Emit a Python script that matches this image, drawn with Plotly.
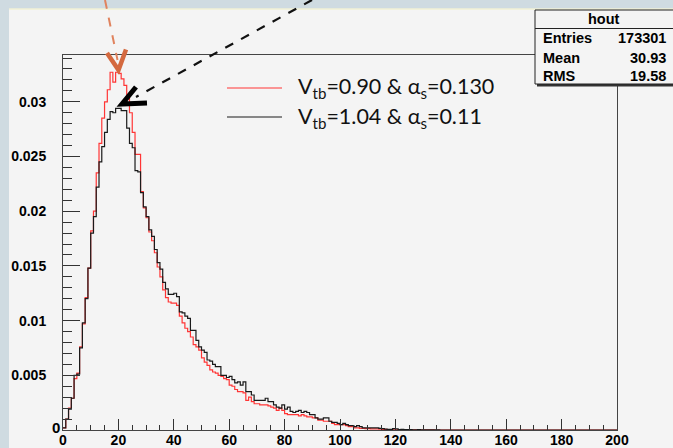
import numpy as np
import plotly.graph_objects as go

# ---------------- data ----------------
bin_edges_lo = 0
bin_edges_hi = 200
n_bins = 200

# V_tb=1.04 & alpha_s=0.11 (black), bins of width 1 starting at 0
black_vals = [
    0.0002, 0.0010, 0.0019, 0.0029, 0.0050, 0.0051, 0.0075, 0.0098, 0.0120, 0.0148,
    0.0180, 0.0195, 0.0222, 0.0245, 0.0259, 0.0272, 0.0284, 0.0291, 0.0290, 0.0294,
    0.0294, 0.0292, 0.0292, 0.0276, 0.0262, 0.0258, 0.0237, 0.0236, 0.0217, 0.0204,
    0.0195, 0.0183, 0.0177, 0.0165, 0.0153, 0.0147, 0.0135, 0.0129, 0.0124, 0.0124,
    0.0125, 0.0122, 0.0108, 0.0107, 0.0104, 0.0102, 0.0091, 0.0091, 0.0082, 0.0076,
    0.0073, 0.0071, 0.0064, 0.0063, 0.0060, 0.0058, 0.0058, 0.0050, 0.0050, 0.0048,
    0.0049, 0.0046, 0.0043, 0.0044, 0.0041, 0.0044, 0.0035, 0.0035, 0.0032, 0.0027,
    0.0027, 0.0027, 0.0027, 0.0029, 0.0026, 0.0026, 0.0023, 0.0021, 0.0020, 0.0023,
    0.0019, 0.0021, 0.0017, 0.0016, 0.0017, 0.0018, 0.0016, 0.0017, 0.0016, 0.0014,
    0.0014, 0.0011, 0.0010, 0.0010, 0.0011, 0.0011, 0.0008, 0.0007, 0.0007, 0.0006,
    0.0005, 0.0006, 0.0005, 0.0004, 0.0004, 0.0003, 0.0004, 0.0003, 0.0002, 0.0002,
    0.0002, 0.0002, 0.0002, 0.0002, 0.00015, 0.00012, 0.00008, 0.00005, 0.00005, 0.00012,
    0.0001, 0.00004, 0.00005, 0.00003, 0.00003, 0.00004, 0.00002, 0.00002, 0.00003, 0.00002,
    0.00002, 0.00001, 0.00002, 0.00001, 0.00001, 0.00001,
]

# V_tb=0.90 & alpha_s=0.130 (red)
red_vals = [
    0.0002, 0.0010, 0.0020, 0.0029, 0.0047, 0.0052, 0.0076, 0.0097, 0.0121, 0.0148,
    0.0182, 0.0200, 0.0235, 0.0262, 0.0285, 0.0300, 0.0311, 0.0327, 0.0318, 0.0327,
    0.0326, 0.0321, 0.0315, 0.0303, 0.0290, 0.0272, 0.0252, 0.0252, 0.0218, 0.0203,
    0.0194, 0.0181, 0.0173, 0.0162, 0.0149, 0.0140, 0.0128, 0.0121, 0.0117, 0.0116,
    0.0116, 0.0114, 0.0104, 0.0098, 0.0093, 0.0090, 0.0085, 0.0078, 0.0076, 0.0073,
    0.0066, 0.0062, 0.0059, 0.0055, 0.0053, 0.0052, 0.0050, 0.0049, 0.0047, 0.0046,
    0.0041, 0.0040, 0.0037, 0.0035, 0.0035, 0.0034, 0.0027, 0.0030, 0.0026, 0.0024,
    0.0024, 0.0023, 0.0023, 0.0023, 0.0022, 0.0021, 0.0020, 0.0018, 0.0020, 0.0018,
    0.0015, 0.0014, 0.0014, 0.0014, 0.0014, 0.0013, 0.0014, 0.0013, 0.0012, 0.0012,
    0.0011, 0.0011, 0.0009, 0.0009, 0.0008, 0.0008, 0.0008, 0.0006, 0.0005, 0.0005,
    0.0005, 0.0005, 0.0004, 0.0003, 0.0003, 0.0002, 0.0002, 0.00015, 0.00015, 0.00012,
    0.00012, 0.0001, 0.0001, 0.0001, 0.00008, 0.00006, 0.00005, 0.00004, 0.00003, 0.00002,
    0.00002, 0.00003, 0.00003, 0.00002, 0.00002, 0.00002, 0.00001, 0.00001, 0.00001, 0.00001,
    0.00002, 0.00002, 0.00002, 0.00001, 0.0, 0.0,
]

legend_labels = [
    "V<sub>tb</sub>=0.90 &amp; α<sub>s</sub>=0.130",
    "V<sub>tb</sub>=1.04 &amp; α<sub>s</sub>=0.11",
]

x_tickvals = [0, 20, 40, 60, 80, 100, 120, 140, 160, 180, 200]
x_ticktext = ["0", "20", "40", "60", "80", "100", "120", "140", "160", "180", "200"]
y_tickvals = [0, 0.005, 0.01, 0.015, 0.02, 0.025, 0.03]
y_ticktext = ["", "0.005", "0.01", "0.015", "0.02", "0.025", "0.03"]
y_zero_label = "0"

stats_title = "hout"
stats_labels = ["Entries", "Mean", "RMS"]
stats_values = ["173301", "30.93", "19.58"]

# ---------------- layout geometry ----------------
W, H = 673, 448
L, R, T, B = 63, 56, 55, 18
PW, PH = W - L - R, H - T - B


def px(x):
    return (x - L) / PW


def py(y):
    return (H - B - y) / PH


def step_xy(vals):
    v = list(vals) + [0.0] * (n_bins - len(vals))
    edges = np.linspace(bin_edges_lo, bin_edges_hi, n_bins + 1)
    return edges, v + [v[-1]]


def bold(labels):
    return ["<b>%s</b>" % t if t else "" for t in labels]


fig = go.Figure()
rx, ry = step_xy(red_vals)
bx, by = step_xy(black_vals)
fig.add_trace(go.Scatter(x=rx, y=ry, mode="lines", line=dict(color="#ff3535", width=1.2, shape="hv"),
                         hoverinfo="skip", showlegend=False))
fig.add_trace(go.Scatter(x=bx, y=by, mode="lines", line=dict(color="#1a1a1a", width=1.2, shape="hv"),
                         hoverinfo="skip", showlegend=False))

tickfont = dict(family="Liberation Sans", size=14, color="#000")

fig.update_xaxes(range=[bin_edges_lo, bin_edges_hi], tickvals=x_tickvals, ticktext=bold(x_ticktext),
                 ticks="inside", ticklen=11, tickwidth=1, tickcolor="#333",
                 minor=dict(ticks="inside", dtick=5, ticklen=5.5, tickwidth=1, tickcolor="#333"),
                 showline=True, linecolor="#444", linewidth=1, mirror=True, showgrid=False,
                 zeroline=False, tickfont=tickfont, ticklabelstandoff=-3, automargin=False)
fig.update_yaxes(range=[0, 0.005 * PH / 54.7], tickvals=y_tickvals, ticktext=bold(y_ticktext),
                 ticks="inside", ticklen=17, tickwidth=1, tickcolor="#333",
                 minor=dict(ticks="inside", dtick=0.001, ticklen=8.5, tickwidth=1, tickcolor="#333"),
                 showline=True, linecolor="#444", linewidth=1, mirror=True, showgrid=False,
                 zeroline=False, tickfont=tickfont, ticklabelstandoff=13, automargin=False)

strip = "#cfdbe1"
canvas = "#f4f4f4"
shapes = [
    # slide strips
    dict(type="rect", xref="paper", yref="paper", x0=px(0), x1=px(9), y0=py(H), y1=py(0),
         fillcolor=strip, line=dict(width=0), layer="below"),
    dict(type="rect", xref="paper", yref="paper", x0=px(0), x1=px(W), y0=py(8.5), y1=py(0),
         fillcolor=strip, line=dict(width=0), layer="below"),
    dict(type="line", xref="paper", yref="paper", x0=px(9), x1=px(W), y0=py(9), y1=py(9),
         line=dict(color="#efefc4", width=1), layer="below"),
    # stats box
    dict(type="rect", xref="paper", yref="paper", x0=px(537), x1=px(W + 5), y0=py(86.5), y1=py(12),
         fillcolor="#333", line=dict(width=0), layer="above"),
    dict(type="rect", xref="paper", yref="paper", x0=px(535), x1=px(W + 5), y0=py(84), y1=py(10),
         fillcolor=canvas, line=dict(color="#222", width=1), layer="above"),
    dict(type="line", xref="paper", yref="paper", x0=px(535), x1=px(W + 5), y0=py(28.5), y1=py(28.5),
         line=dict(color="#222", width=1), layer="above"),
    # legend lines
    dict(type="line", xref="paper", yref="paper", x0=px(227), x1=px(282), y0=py(88), y1=py(88),
         line=dict(color="#ff3535", width=1.2), layer="above"),
    dict(type="line", xref="paper", yref="paper", x0=px(227), x1=px(282), y0=py(117), y1=py(117),
         line=dict(color="#1a1a1a", width=1.2), layer="above"),
    # orange dashed arrow
    dict(type="line", xref="paper", yref="paper", x0=px(105), x1=px(117.5), y0=py(0), y1=py(60),
         line=dict(color="#e0835e", width=2, dash="dash"), layer="above"),
    dict(type="path", xref="paper", yref="paper",
         path="M {},{} L {},{} L {},{}".format(px(107), py(53), px(118.5), py(70), px(126), py(49.5)),
         line=dict(color="#d4693f", width=4.5), layer="above"),
    # black dashed arrow
    dict(type="line", xref="paper", yref="paper", x0=px(312), x1=px(136), y0=py(0), y1=py(97),
         line=dict(color="#111", width=2.2, dash="dash"), layer="above"),
    dict(type="path", xref="paper", yref="paper",
         path="M {},{} L {},{} L {},{}".format(px(136), py(87), px(122), py(104), px(147), py(103)),
         line=dict(color="#000", width=5), layer="above"),
]

annotations = []
legend_font = dict(family="Lato, Open Sans", size=21.5, color="#111")
for lbl, yy in zip(legend_labels, [88, 117]):
    annotations.append(dict(text=lbl, xref="paper", yref="paper", x=px(296), y=py(yy),
                            xanchor="left", yanchor="middle", showarrow=False, font=legend_font))

statfont = dict(family="Liberation Sans", size=14.5, color="#000")
annotations.append(dict(text="<b>%s</b>" % stats_title, xref="paper", yref="paper", x=px(604), y=py(19.5),
                        xanchor="center", yanchor="middle", showarrow=False, font=statfont))
for lbl, val, yy in zip(stats_labels, stats_values, [38.5, 57.5, 76]):
    annotations.append(dict(text="<b>%s</b>" % lbl, xref="paper", yref="paper", x=px(541), y=py(yy),
                            xanchor="left", yanchor="middle", showarrow=False, font=statfont))
    annotations.append(dict(text="<b>%s</b>" % val, xref="paper", yref="paper", x=px(668), y=py(yy),
                            xanchor="right", yanchor="middle", showarrow=False, font=statfont))

annotations.append(dict(text="<b>%s</b>" % y_zero_label, xref="paper", yref="paper", x=px(55.5), y=py(427),
                        xanchor="center", yanchor="middle", showarrow=False,
                        font=dict(family="Liberation Sans", size=15, color="#000")))

fig.update_layout(width=W, height=H, margin=dict(l=L, r=R, t=T, b=B, autoexpand=False),
                  paper_bgcolor=canvas, plot_bgcolor=canvas,
                  shapes=shapes, annotations=annotations, showlegend=False)

fig.write_html("out.html")
